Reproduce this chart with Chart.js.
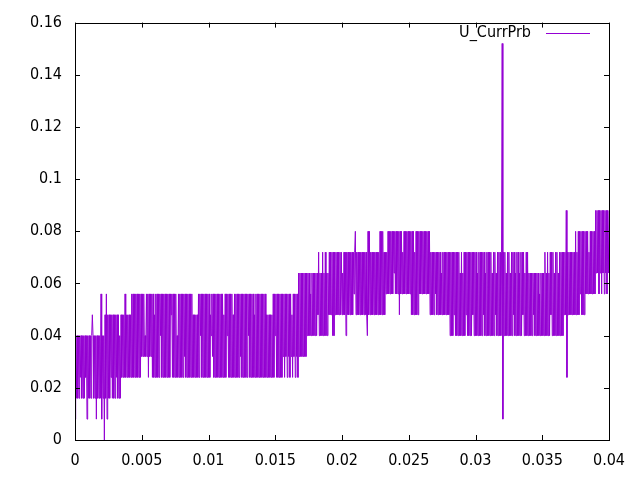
<!DOCTYPE html>
<html>
<head>
<meta charset="utf-8">
<script src="https://cdn.jsdelivr.net/npm/chart.js@4.4.1/dist/chart.umd.min.js"></script>
<style>
  html, body { margin: 0; padding: 0; background: #fff; }
  canvas { display: block; }
</style>
</head>
<body>
<canvas id="prbChart" width="640" height="480"></canvas>
<script>
const seriesName = "U_CurrPrb";
const sampleStep = 0.00005; // time between two samples
// one row = 20 samples = 0.001
const currPrb = [
  0.008, 0.04, 0.016, 0.04, 0.016, 0.04, 0.016, 0.04, 0.024, 0.04, 0.016, 0.04, 0.016, 0.04, 0.016, 0.04, 0.024, 0.04, 0.008, 0.04,
  0.016, 0.04, 0.016, 0.04, 0.016, 0.04, 0.048, 0.04, 0.016, 0.04, 0.016, 0.04, 0.008, 0.04, 0.016, 0.04, 0.016, 0.04, 0.016, 0.056,
  0.008, 0.04, 0.016, 0.04, 0, 0.048, 0.016, 0.056, 0.008, 0.048, 0.016, 0.048, 0.016, 0.048, 0.024, 0.048, 0.016, 0.048, 0.016, 0.048,
  0.016, 0.048, 0.024, 0.048, 0.016, 0.048, 0.016, 0.04, 0.016, 0.048, 0.024, 0.048, 0.024, 0.048, 0.024, 0.056, 0.024, 0.048, 0.024, 0.048,
  0.024, 0.048, 0.024, 0.048, 0.024, 0.056, 0.024, 0.056, 0.024, 0.056, 0.024, 0.056, 0.024, 0.056, 0.024, 0.056, 0.024, 0.056, 0.024, 0.056,
  0.032, 0.056, 0.032, 0.056, 0.032, 0.04, 0.032, 0.056, 0.032, 0.056, 0.024, 0.056, 0.032, 0.056, 0.032, 0.056, 0.024, 0.056, 0.024, 0.048,
  0.024, 0.056, 0.024, 0.056, 0.024, 0.056, 0.024, 0.056, 0.04, 0.056, 0.024, 0.056, 0.024, 0.056, 0.024, 0.056, 0.024, 0.056, 0.024, 0.056,
  0.024, 0.056, 0.024, 0.056, 0.048, 0.056, 0.024, 0.056, 0.024, 0.056, 0.024, 0.056, 0.024, 0.04, 0.024, 0.056, 0.024, 0.056, 0.024, 0.056,
  0.024, 0.056, 0.024, 0.056, 0.032, 0.056, 0.024, 0.056, 0.024, 0.056, 0.024, 0.056, 0.024, 0.056, 0.024, 0.056, 0.024, 0.048, 0.024, 0.048,
  0.024, 0.048, 0.024, 0.048, 0.024, 0.056, 0.024, 0.056, 0.04, 0.056, 0.024, 0.056, 0.024, 0.056, 0.024, 0.056, 0.024, 0.056, 0.024, 0.056,
  0.024, 0.056, 0.024, 0.048, 0.04, 0.056, 0.032, 0.056, 0.024, 0.056, 0.024, 0.056, 0.024, 0.056, 0.024, 0.056, 0.024, 0.056, 0.024, 0.056,
  0.024, 0.056, 0.024, 0.048, 0.024, 0.056, 0.024, 0.056, 0.04, 0.056, 0.024, 0.056, 0.024, 0.056, 0.024, 0.056, 0.024, 0.048, 0.024, 0.056,
  0.024, 0.056, 0.024, 0.056, 0.024, 0.056, 0.024, 0.056, 0.032, 0.056, 0.024, 0.056, 0.024, 0.056, 0.024, 0.056, 0.024, 0.056, 0.024, 0.056,
  0.04, 0.056, 0.024, 0.056, 0.024, 0.056, 0.024, 0.056, 0.024, 0.048, 0.024, 0.056, 0.024, 0.056, 0.024, 0.056, 0.024, 0.056, 0.024, 0.056,
  0.024, 0.056, 0.024, 0.056, 0.024, 0.056, 0.024, 0.048, 0.024, 0.048, 0.024, 0.048, 0.024, 0.048, 0.024, 0.048, 0.024, 0.056, 0.024, 0.056,
  0.04, 0.056, 0.024, 0.056, 0.024, 0.056, 0.024, 0.056, 0.024, 0.056, 0.024, 0.056, 0.032, 0.056, 0.024, 0.056, 0.032, 0.056, 0.024, 0.056,
  0.032, 0.056, 0.024, 0.056, 0.032, 0.048, 0.024, 0.056, 0.032, 0.056, 0.024, 0.056, 0.032, 0.056, 0.024, 0.064, 0.032, 0.064, 0.032, 0.064,
  0.032, 0.064, 0.032, 0.064, 0.032, 0.064, 0.032, 0.064, 0.04, 0.064, 0.04, 0.064, 0.04, 0.056, 0.04, 0.064, 0.04, 0.064, 0.04, 0.064,
  0.04, 0.064, 0.04, 0.064, 0.048, 0.072, 0.04, 0.064, 0.04, 0.064, 0.04, 0.072, 0.04, 0.064, 0.04, 0.072, 0.04, 0.064, 0.04, 0.064,
  0.048, 0.072, 0.048, 0.072, 0.048, 0.072, 0.04, 0.072, 0.04, 0.072, 0.048, 0.072, 0.048, 0.072, 0.048, 0.072, 0.048, 0.072, 0.048, 0.072,
  0.048, 0.064, 0.048, 0.072, 0.048, 0.072, 0.04, 0.072, 0.048, 0.072, 0.048, 0.072, 0.048, 0.072, 0.048, 0.072, 0.048, 0.072, 0.056, 0.072,
  0.08, 0.048, 0.072, 0.048, 0.072, 0.048, 0.072, 0.048, 0.072, 0.048, 0.072, 0.048, 0.072, 0.048, 0.072, 0.048, 0.072, 0.048, 0.04, 0.08,
  0.048, 0.08, 0.048, 0.072, 0.048, 0.072, 0.048, 0.072, 0.048, 0.072, 0.048, 0.072, 0.048, 0.072, 0.048, 0.072, 0.048, 0.08, 0.048, 0.08,
  0.048, 0.08, 0.048, 0.072, 0.048, 0.072, 0.056, 0.072, 0.056, 0.08, 0.056, 0.08, 0.056, 0.08, 0.056, 0.08, 0.056, 0.08, 0.064, 0.08,
  0.056, 0.08, 0.056, 0.08, 0.056, 0.08, 0.048, 0.08, 0.056, 0.08, 0.056, 0.072, 0.056, 0.08, 0.056, 0.08, 0.056, 0.08, 0.056, 0.08,
  0.056, 0.08, 0.056, 0.08, 0.048, 0.08, 0.048, 0.08, 0.048, 0.072, 0.048, 0.08, 0.048, 0.08, 0.048, 0.08, 0.056, 0.08, 0.056, 0.08,
  0.056, 0.08, 0.056, 0.08, 0.056, 0.08, 0.056, 0.08, 0.056, 0.08, 0.056, 0.08, 0.048, 0.072, 0.048, 0.072, 0.048, 0.072, 0.048, 0.072,
  0.056, 0.072, 0.048, 0.072, 0.048, 0.072, 0.048, 0.072, 0.048, 0.064, 0.048, 0.072, 0.048, 0.072, 0.048, 0.072, 0.048, 0.072, 0.048, 0.072,
  0.048, 0.072, 0.04, 0.072, 0.04, 0.072, 0.04, 0.072, 0.048, 0.072, 0.04, 0.072, 0.04, 0.072, 0.04, 0.072, 0.04, 0.064, 0.04, 0.072,
  0.04, 0.064, 0.04, 0.072, 0.04, 0.072, 0.048, 0.072, 0.04, 0.072, 0.04, 0.072, 0.04, 0.072, 0.04, 0.072, 0.048, 0.072, 0.04, 0.072,
  0.04, 0.072, 0.04, 0.064, 0.04, 0.072, 0.04, 0.072, 0.04, 0.072, 0.04, 0.072, 0.048, 0.072, 0.04, 0.064, 0.04, 0.072, 0.04, 0.072,
  0.04, 0.072, 0.04, 0.072, 0.04, 0.064, 0.04, 0.072, 0.04, 0.072, 0.048, 0.064, 0.04, 0.072, 0.04, 0.072, 0.04, 0.072, 0.04, 0.072,
  0.152, 0.008, 0.072, 0.04, 0.072, 0.04, 0.064, 0.04, 0.072, 0.04, 0.072, 0.04, 0.064, 0.04, 0.072, 0.04, 0.072, 0.048, 0.072, 0.04,
  0.064, 0.04, 0.072, 0.04, 0.072, 0.04, 0.064, 0.04, 0.072, 0.04, 0.072, 0.048, 0.072, 0.04, 0.064, 0.04, 0.072, 0.04, 0.072, 0.04,
  0.064, 0.04, 0.064, 0.04, 0.064, 0.04, 0.064, 0.048, 0.064, 0.04, 0.064, 0.04, 0.064, 0.04, 0.064, 0.04, 0.056, 0.04, 0.064, 0.04,
  0.064, 0.04, 0.064, 0.04, 0.072, 0.04, 0.064, 0.04, 0.072, 0.04, 0.064, 0.04, 0.072, 0.048, 0.072, 0.04, 0.072, 0.04, 0.064, 0.04,
  0.072, 0.04, 0.072, 0.04, 0.064, 0.04, 0.072, 0.04, 0.072, 0.04, 0.072, 0.04, 0.072, 0.048, 0.072, 0.048, 0.088, 0.024, 0.072, 0.048,
  0.072, 0.048, 0.072, 0.048, 0.072, 0.048, 0.072, 0.048, 0.072, 0.048, 0.08, 0.048, 0.072, 0.048, 0.08, 0.048, 0.08, 0.056, 0.08, 0.048,
  0.08, 0.048, 0.08, 0.048, 0.08, 0.056, 0.08, 0.056, 0.08, 0.056, 0.072, 0.056, 0.08, 0.056, 0.08, 0.056, 0.08, 0.056, 0.08, 0.056,
  0.088, 0.064, 0.088, 0.064, 0.088, 0.056, 0.088, 0.064, 0.088, 0.056, 0.088, 0.064, 0.088, 0.056, 0.088, 0.064, 0.088, 0.056, 0.088, 0.064,
  0.088
];
const xTicks = [0, 0.005, 0.01, 0.015, 0.02, 0.025, 0.03, 0.035, 0.04];
const yTicks = [0, 0.02, 0.04, 0.06, 0.08, 0.1, 0.12, 0.14, 0.16];

const lineColor = "#9400d3";
const fontFamily = "'Liberation Sans Narrow', 'DejaVu Sans Condensed', 'Liberation Sans', sans-serif";
const tickFont = { family: fontFamily, size: 16 };

const points = currPrb.map((v, i) => ({ x: i * sampleStep, y: v }));

// gnuplot-like box with inward ticks on all four sides
const framePlugin = {
  id: "frame",
  afterDatasetsDraw(chart) {
    const ctx = chart.ctx;
    const a = chart.chartArea;
    const xs = chart.scales.x;
    const ys = chart.scales.y;
    const tick = 5;
    ctx.save();
    ctx.strokeStyle = "#000";
    ctx.lineWidth = 1;
    ctx.beginPath();
    xTicks.forEach(v => {
      const px = Math.round(xs.getPixelForValue(v)) + 0.5;
      ctx.moveTo(px, a.bottom); ctx.lineTo(px, a.bottom - tick);
      ctx.moveTo(px, a.top); ctx.lineTo(px, a.top + tick);
    });
    yTicks.forEach(v => {
      const py = Math.round(ys.getPixelForValue(v)) + 0.5;
      ctx.moveTo(a.left, py); ctx.lineTo(a.left + tick, py);
      ctx.moveTo(a.right, py); ctx.lineTo(a.right - tick, py);
    });
    ctx.stroke();
    ctx.strokeRect(Math.round(a.left) + 0.5, Math.round(a.top) + 0.5,
      Math.round(a.right - a.left), Math.round(a.bottom - a.top));
    ctx.restore();
  }
};

const keyPlugin = {
  id: "key",
  afterDraw(chart) {
    const ctx = chart.ctx;
    ctx.save();
    ctx.font = "16px " + fontFamily;
    ctx.fillStyle = "#000";
    ctx.textAlign = "right";
    ctx.textBaseline = "middle";
    ctx.fillText(seriesName, 531, 33);
    ctx.strokeStyle = lineColor;
    ctx.lineWidth = 1;
    ctx.beginPath();
    ctx.moveTo(546, 33.5);
    ctx.lineTo(590, 33.5);
    ctx.stroke();
    ctx.restore();
  }
};

new Chart(document.getElementById("prbChart"), {
  type: "line",
  data: {
    datasets: [
      {
        label: seriesName,
        data: points,
        borderColor: lineColor,
        borderWidth: 1,
        pointRadius: 0,
        tension: 0,
        fill: false,
      },
    ],
  },
  options: {
    responsive: false,
    animation: false,
    layout: { padding: { top: 19, right: 31, left: 0, bottom: 0 } },
    plugins: {
      legend: { display: false },
      tooltip: { enabled: false },
    },
    scales: {
      x: {
        type: "linear",
        min: 0,
        max: 0.04,
        afterBuildTicks: s => { s.ticks = xTicks.map(v => ({ value: v })); },
        afterFit: s => { s.height = 40; },
        grid: { display: false, drawTicks: false },
        border: { display: false },
        ticks: {
          color: "#000",
          font: tickFont,
          padding: 11,
          maxRotation: 0,
          autoSkip: false,
          callback: v => String(+v.toFixed(3)),
        },
      },
      y: {
        type: "linear",
        min: 0,
        max: 0.16,
        afterBuildTicks: s => { s.ticks = yTicks.map(v => ({ value: v })); },
        afterFit: s => { s.width = 75; },
        grid: { display: false, drawTicks: false },
        border: { display: false },
        ticks: {
          color: "#000",
          font: tickFont,
          padding: 13,
          autoSkip: false,
          callback: v => String(+v.toFixed(2)),
        },
      },
    },
  },
  plugins: [framePlugin, keyPlugin],
});
</script>
</body>
</html>
